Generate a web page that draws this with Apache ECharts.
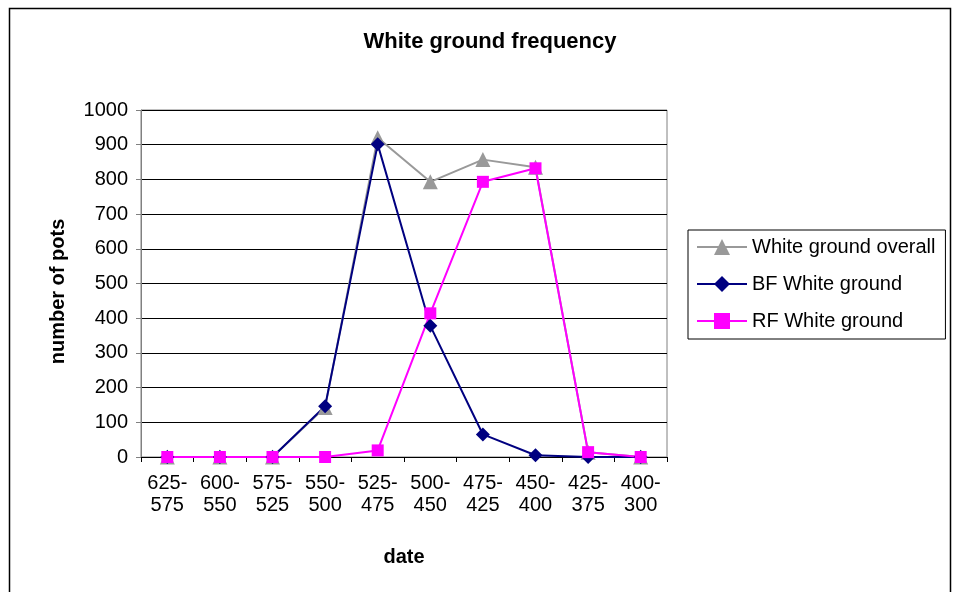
<!DOCTYPE html>
<html><head><meta charset="utf-8">
<script src="https://cdn.jsdelivr.net/npm/echarts@6/dist/echarts.min.js"></script>
<style>html,body{margin:0;padding:0;background:#fff}#c{width:963px;height:592px}</style>
</head><body><div id="c"></div>
<script>
const categories = ['625-\n575','600-\n550','575-\n525','550-\n500','525-\n475','500-\n450','475-\n425','450-\n400','425-\n375','400-\n300'];
const overall = [0,0,0,143,920,793,857,835,14,0];
const bfWhite = [0,0,0,146,901,378,65,5,0,0];
const rfWhite = [0,0,0,0,19,414,793,832,14,0];
const yTicks = [0,100,200,300,400,500,600,700,800,900,1000];

const font = 'Liberation Sans, Arial, sans-serif';
const chart = echarts.init(document.getElementById('c'));
chart.setOption({
  animation:false,
  backgroundColor:'#fff',
  graphic:[{type:'rect',shape:{x:9.5,y:8.5,width:941,height:600},style:{fill:'none',stroke:'#000',lineWidth:1.5},z:-1}],
  title:{text:'White ground frequency',left:485,top:26,textAlign:'center',textStyle:{fontFamily:font,fontSize:22,fontWeight:'bold',color:'#000'}},
  grid:{left:141,right:296,top:110,bottom:135,show:true,borderColor:'#808080',borderWidth:1},
  legend:{orient:'vertical',left:688,top:230,padding:[7,10,8,8],itemGap:17,itemWidth:50,itemHeight:20,
    borderColor:'#000',borderWidth:1,textStyle:{fontFamily:font,fontSize:20,color:'#000'},
    data:['White ground overall','BF White ground','RF White ground']},
  xAxis:{type:'category',data:categories,boundaryGap:true,name:'date',nameLocation:'middle',nameGap:90,
    nameTextStyle:{fontFamily:font,fontSize:20,fontWeight:'bold',color:'#000'},
    axisLine:{lineStyle:{color:'#000',width:1}},axisTick:{show:true,length:5,lineStyle:{color:'#000'}},
    axisLabel:{fontFamily:font,fontSize:20,color:'#000',margin:15,lineHeight:22}},
  yAxis:{type:'value',min:0,max:1000,interval:100,name:'number of pots',nameLocation:'middle',nameGap:73,
    nameTextStyle:{fontFamily:font,fontSize:20,fontWeight:'bold',color:'#000',padding:[0,16,0,0]},
    axisLine:{show:true,lineStyle:{color:'#808080'}},axisTick:{show:true,length:5,lineStyle:{color:'#808080'}},
    axisLabel:{fontFamily:font,fontSize:20,color:'#000',margin:13,formatter:v=>yTicks.includes(v)?String(v):''},
    splitLine:{lineStyle:{color:'#000',width:1}}},
  series:[
    {name:'White ground overall',type:'line',data:overall,symbol:'triangle',symbolSize:15,
      lineStyle:{color:'#999999',width:2},itemStyle:{color:'#999999'}},
    {name:'BF White ground',type:'line',data:bfWhite,symbol:'diamond',symbolSize:14,
      lineStyle:{color:'#000080',width:2},itemStyle:{color:'#000080'}},
    {name:'RF White ground',type:'line',data:rfWhite,symbol:'rect',symbolSize:12,
      lineStyle:{color:'#FF00FF',width:2},itemStyle:{color:'#FF00FF'}}
  ]
});
</script></body></html>
